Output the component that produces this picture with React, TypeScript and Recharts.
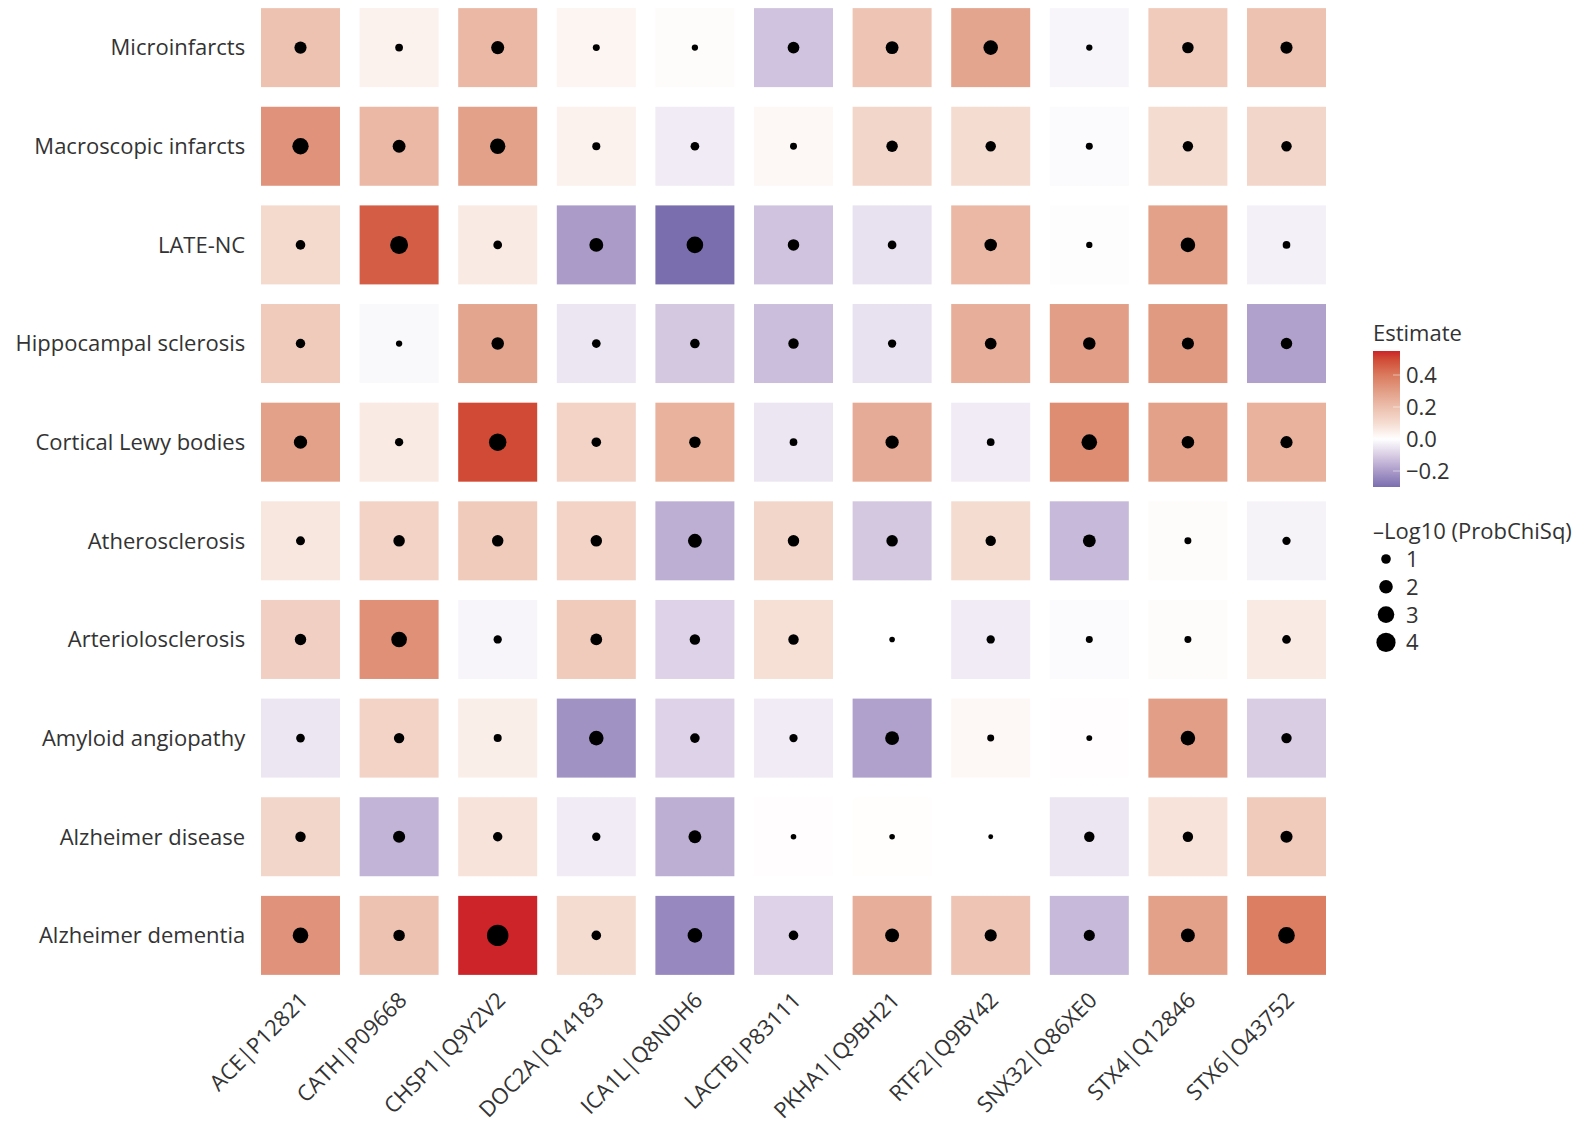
import { ScatterChart, Scatter, XAxis, YAxis } from "recharts";

// Outcomes, top to bottom
const OUTCOMES = [
  "Microinfarcts",
  "Macroscopic infarcts",
  "LATE-NC",
  "Hippocampal sclerosis",
  "Cortical Lewy bodies",
  "Atherosclerosis",
  "Arteriolosclerosis",
  "Amyloid angiopathy",
  "Alzheimer disease",
  "Alzheimer dementia",
];

// Proteins (gene | UniProt), left to right
const PROTEINS = [
  "ACE|P12821",
  "CATH|P09668",
  "CHSP1|Q9Y2V2",
  "DOC2A|Q14183",
  "ICA1L|Q8NDH6",
  "LACTB|P83111",
  "PKHA1|Q9BH21",
  "RTF2|Q9BY42",
  "SNX32|Q86XE0",
  "STX4|Q12846",
  "STX6|O43752",
];

// Estimate, one row per outcome, one column per protein
const ESTIMATES = [
  [0.19, 0.04, 0.22, 0.03, 0.01, -0.12, 0.18, 0.28, -0.02, 0.16, 0.19],
  [0.33, 0.22, 0.29, 0.04, -0.04, 0.02, 0.12, 0.1, -0.01, 0.1, 0.12],
  [0.11, 0.46, 0.06, -0.2, -0.3, -0.12, -0.06, 0.22, -0.005, 0.29, -0.03],
  [0.16, -0.015, 0.28, -0.05, -0.11, -0.13, -0.06, 0.25, 0.3, 0.31, -0.19],
  [0.29, 0.06, 0.5, 0.13, 0.24, -0.05, 0.26, -0.04, 0.35, 0.29, 0.24],
  [0.07, 0.13, 0.16, 0.13, -0.16, 0.12, -0.11, 0.1, -0.14, 0.01, -0.025],
  [0.14, 0.34, -0.02, 0.16, -0.09, 0.09, 0.0, -0.04, -0.01, 0.01, 0.06],
  [-0.05, 0.13, 0.05, -0.22, -0.09, -0.04, -0.19, 0.02, 0.005, 0.3, -0.1],
  [0.12, -0.15, 0.08, -0.04, -0.16, 0.005, 0.004, 0.0, -0.05, 0.08, 0.16],
  [0.33, 0.19, 0.55, 0.1, -0.24, -0.09, 0.25, 0.18, -0.14, 0.29, 0.39],
];

// -Log10(ProbChiSq), same layout
const NEG_LOG_P = [
  [1.6, 0.65, 1.85, 0.53, 0.43, 1.5, 1.8, 2.3, 0.43, 1.43, 1.6],
  [2.9, 1.8, 2.55, 0.7, 0.82, 0.53, 1.43, 1.18, 0.53, 1.18, 1.18],
  [1.0, 3.5, 0.82, 2.1, 3.0, 1.43, 0.82, 1.7, 0.43, 2.3, 0.64],
  [0.96, 0.43, 1.7, 0.82, 1.0, 1.18, 0.75, 1.5, 1.7, 1.6, 1.43],
  [1.9, 0.75, 3.3, 1.0, 1.43, 0.64, 1.9, 0.64, 2.65, 1.7, 1.6],
  [0.88, 1.43, 1.43, 1.43, 2.1, 1.43, 1.43, 1.18, 1.8, 0.53, 0.75],
  [1.43, 2.65, 0.75, 1.5, 1.18, 1.18, 0.34, 0.75, 0.53, 0.53, 0.82],
  [0.82, 1.18, 0.7, 2.3, 1.0, 0.75, 2.1, 0.53, 0.38, 2.3, 1.18],
  [1.18, 1.6, 0.96, 0.75, 1.8, 0.34, 0.34, 0.26, 1.18, 1.18, 1.6],
  [2.65, 1.43, 5.0, 1.0, 2.3, 1.0, 2.1, 1.6, 1.35, 2.1, 3.0],
];

const ESTIMATE_TICKS = [0.4, 0.2, 0.0, -0.2];
const SIZE_TICKS = [1, 2, 3, 4];

// diverging purple - white - red scale
const COLOR_STOPS: [number, string][] = [
  [-0.3, "#7b6eaf"],
  [-0.2, "#aa9bc9"],
  [-0.1, "#d9cde4"],
  [0.0, "#ffffff"],
  [0.1, "#f5dcd1"],
  [0.2, "#ecbfad"],
  [0.3, "#e29e86"],
  [0.4, "#da7a5e"],
  [0.5, "#d04a35"],
  [0.55, "#cc2428"],
];

const EST_MIN = -0.3;
const EST_MAX = 0.55;

const hexToRgb = (h: string) => [1, 3, 5].map((i) => parseInt(h.slice(i, i + 2), 16));

function colorFor(v: number): string {
  if (v <= COLOR_STOPS[0][0]) return COLOR_STOPS[0][1];
  for (let i = 1; i < COLOR_STOPS.length; i++) {
    const [v1, c1] = COLOR_STOPS[i];
    if (v <= v1) {
      const [v0, c0] = COLOR_STOPS[i - 1];
      const t = (v - v0) / (v1 - v0);
      const a = hexToRgb(c0);
      const b = hexToRgb(c1);
      const rgb = a.map((x, k) => Math.round(x + (b[k] - x) * t));
      return `rgb(${rgb.join(",")})`;
    }
  }
  return COLOR_STOPS[COLOR_STOPS.length - 1][1];
}

// dot area proportional to -log10 p
const dotRadius = (p: number) => 4.8 * Math.sqrt(p);

const CELL = 79;
const FONT = "'Open Sans', 'Noto Sans', sans-serif";
const FONT_SIZE = 22;
const TEXT = "#333333";

const cells = OUTCOMES.flatMap((_, r) =>
  PROTEINS.map((_, c) => ({ x: c, y: r, est: ESTIMATES[r][c], lp: NEG_LOG_P[r][c] }))
);

function Cell(props: any) {
  const { cx, cy, payload } = props;
  return (
    <g>
      <rect x={cx - CELL / 2} y={cy - CELL / 2} width={CELL} height={CELL} fill={colorFor(payload.est)} />
      <circle cx={cx} cy={cy} r={dotRadius(payload.lp)} fill="#000" />
    </g>
  );
}

function ProteinTick(props: any) {
  const { x, y, payload } = props;
  const ax = x + 9;
  const ay = y + 15;
  return (
    <text
      x={ax}
      y={ay}
      transform={`rotate(-45, ${ax}, ${ay})`}
      textAnchor="end"
      fill={TEXT}
      fontSize={FONT_SIZE}
      fontFamily={FONT}
    >
      {PROTEINS[payload.value]}
    </text>
  );
}

function Legends() {
  const barX = 1373;
  const barTop = 353;
  const barH = 136;
  const yOf = (v: number) => barTop + ((EST_MAX - v) / (EST_MAX - EST_MIN)) * barH;
  return (
    <svg width={1589} height={1123} style={{ position: "absolute", left: 0, top: 0, pointerEvents: "none" }}>
      <defs>
        <linearGradient id="estGrad" x1="0" y1="0" x2="0" y2="1">
          {COLOR_STOPS.slice()
            .reverse()
            .map(([v, c]) => (
              <stop key={v} offset={(EST_MAX - v) / (EST_MAX - EST_MIN)} stopColor={c} />
            ))}
        </linearGradient>
      </defs>
      <text x={1373} y={343} fontSize={FONT_SIZE} fontFamily={FONT} fill={TEXT}>
        Estimate
      </text>
      <rect x={barX} y={barTop} width={27} height={barH} fill="url(#estGrad)" />
      {ESTIMATE_TICKS.map((t) => (
        <g key={t}>
          <line x1={barX + 20} x2={barX + 27} y1={yOf(t)} y2={yOf(t)} stroke="#ffffff" strokeOpacity={0.5} />
          <text x={1406} y={yOf(t)} dy="0.36em" fontSize={FONT_SIZE} fontFamily={FONT} fill={TEXT}>
            {t < 0 ? `\u2212${Math.abs(t).toFixed(1)}` : t.toFixed(1)}
          </text>
        </g>
      ))}
      <text x={1373} y={541} fontSize={FONT_SIZE} fontFamily={FONT} fill={TEXT}>
        {"\u2013Log10 (ProbChiSq)"}
      </text>
      {SIZE_TICKS.map((s, i) => {
        const cy = 561 + i * 27.8;
        return (
          <g key={s}>
            <circle cx={1386} cy={cy} r={dotRadius(s)} fill="#000" />
            <text x={1406} y={cy} dy="0.36em" fontSize={FONT_SIZE} fontFamily={FONT} fill={TEXT}>
              {s}
            </text>
          </g>
        );
      })}
    </svg>
  );
}

export default function App() {
  return (
    <div style={{ position: "absolute", left: 0, top: -2, width: 1589, height: 1125, background: "#fff" }}>
      <ScatterChart width={1589} height={1125} margin={{ top: 0.3, right: 253.2, bottom: 18.3, left: 11.2 }}>
        <XAxis
          type="number"
          dataKey="x"
          domain={[-0.5, 10.5]}
          ticks={PROTEINS.map((_, i) => i)}
          interval={0}
          axisLine={false}
          tickLine={false}
          tickSize={0}
          height={120}
          tick={<ProteinTick />}
        />
        <YAxis
          type="number"
          dataKey="y"
          domain={[-0.5, 9.5]}
          reversed
          ticks={OUTCOMES.map((_, i) => i)}
          interval={0}
          axisLine={false}
          tickLine={false}
          tickSize={0}
          tickMargin={6}
          width={240}
          tickFormatter={(i: number) => OUTCOMES[i]}
          tick={{ fill: TEXT, fontSize: FONT_SIZE, fontFamily: FONT }}
        />
        <Scatter data={cells} shape={<Cell />} isAnimationActive={false} />
      </ScatterChart>
      <Legends />
    </div>
  );
}
